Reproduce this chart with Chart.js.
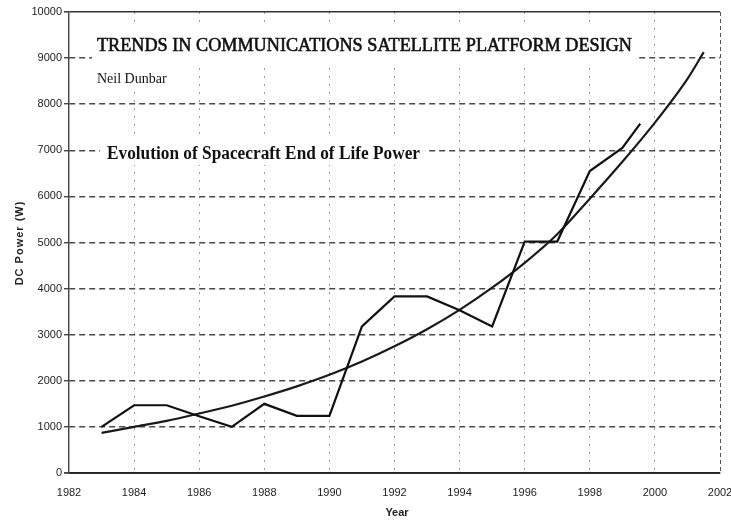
<!DOCTYPE html>
<html>
<head>
<meta charset="utf-8">
<title>Evolution of Spacecraft End of Life Power</title>
<script src="https://cdn.jsdelivr.net/npm/chart.js@4.4.0/dist/chart.umd.min.js"></script>
<style>
  html, body { margin: 0; padding: 0; background: #fff; }
  #wrap { width: 731px; height: 522px; }
</style>
</head>
<body>
<div id="wrap"><canvas id="powerChart" width="731" height="522"></canvas></div>
<script>
// ===============================
// DATA
// ===============================

// satellite EOL power by launch year (W)
const powerYears = [1983, 1984, 1985, 1986, 1987, 1988, 1989, 1990, 1991, 1992, 1993, 1994, 1995, 1996, 1997, 1998, 1999, 1999.55];
const powerValues = [1000, 1470, 1470, 1230, 1000, 1500, 1240, 1240, 3180, 3830, 3830, 3530, 3180, 5020, 5020, 6550, 7050, 7580];

// fitted trend curve
const trendYears = [1983, 1984, 1985, 1986, 1987, 1988, 1989, 1990, 1991, 1992, 1993, 1994, 1995, 1996, 1997, 1998, 1999, 2000, 2001, 2001.5];
const trendValues = [870, 1000, 1130, 1290, 1460, 1660, 1880, 2130, 2420, 2750, 3120, 3540, 4020, 4560, 5180, 5950, 6750, 7600, 8550, 9130];

const yearTicks = [1982, 1984, 1986, 1988, 1990, 1992, 1994, 1996, 1998, 2000, 2002];
const powerTicks = [0, 1000, 2000, 3000, 4000, 5000, 6000, 7000, 8000, 9000, 10000];

const mainTitle = "TRENDS IN COMMUNICATIONS SATELLITE PLATFORM DESIGN";
const authorText = "Neil Dunbar";
const subTitle = "Evolution of Spacecraft End of Life Power";

const toPoints = (xs, ys) => xs.map((x, i) => ({ x: x, y: ys[i] }));

// ===============================
// TEXT BOXES + AXIS TITLES
// ===============================

const textBoxes = {
  id: "textBoxes",
  beforeDatasetsDraw(chart) {
    const c = chart.ctx;
    c.save();
    // white text boxes sit over the grid
    c.fillStyle = "#fff";
    c.fillRect(92, 28, 546, 38);
    c.fillRect(92, 66, 84, 24);
    c.fillRect(100, 138, 325, 27);

    c.fillStyle = "#111";
    c.strokeStyle = "#111";
    c.textBaseline = "alphabetic";
    c.textAlign = "left";
    c.font = "19px 'Liberation Serif'";
    c.lineWidth = 0.6;
    c.fillText(mainTitle, 97, 51, 535);
    c.strokeText(mainTitle, 97, 51, 535);
    c.font = "14px 'Liberation Serif'";
    c.fillText(authorText, 97, 83, 72);
    c.font = "bold 18px 'Liberation Serif'";
    c.fillText(subTitle, 107, 159, 313);
    c.restore();
  },
  afterDraw(chart) {
    const c = chart.ctx;
    c.save();
    c.fillStyle = "#222";
    c.font = "bold 11px 'Liberation Sans'";
    c.textAlign = "center";
    c.textBaseline = "middle";
    c.fillText("Year", 397, 513);
    c.translate(20, 243);
    c.rotate(-Math.PI / 2);
    c.letterSpacing = "1px";
    c.fillText("DC Power (W)", 0, 0);
    c.restore();
  }
};

// ===============================
// CHART
// ===============================

const tickFont = { family: "'Liberation Sans', Arial, sans-serif", size: 11 };

new Chart(document.getElementById("powerChart"), {
  type: "line",
  data: {
    datasets: [
      {
        label: "EOL Power",
        data: toPoints(powerYears, powerValues),
        borderColor: "#111",
        borderWidth: 2.2,
        pointRadius: 0,
        tension: 0,
        fill: false
      },
      {
        label: "Trend",
        data: toPoints(trendYears, trendValues),
        borderColor: "#1a1a1a",
        borderWidth: 2.2,
        pointRadius: 0,
        cubicInterpolationMode: "monotone",
        fill: false
      }
    ]
  },
  options: {
    responsive: false,
    animation: false,
    layout: { padding: { top: 12, right: 11, left: 0, bottom: 0 } },
    plugins: {
      legend: { display: false },
      tooltip: { enabled: false }
    },
    scales: {
      x: {
        type: "linear",
        min: 1982,
        max: 2002,
        afterBuildTicks: s => { s.ticks = yearTicks.map(v => ({ value: v })); },
        afterFit: s => {
          s.height = 49;
          // let the last label run past the plot edge
          s.paddingLeft = 0;
          s.paddingRight = 0;
        },
        ticks: {
          color: "#222",
          font: tickFont,
          padding: 13,
          maxRotation: 0,
          autoSkip: false,
          callback: v => String(v)
        },
        grid: {
          drawTicks: false,
          color: ctx => {
            const v = ctx.tick && ctx.tick.value;
            if (v === 1982) return "#444";
            if (v === 2002) return "#555";
            return "#9a9a9a";
          },
          lineWidth: ctx => (ctx.tick && ctx.tick.value === 1982) ? 1.3 : 1
        },
        border: {
          color: "#222",
          width: 1.8,
          dash: ctx => {
            if (ctx.type === "scale") return [];
            const v = ctx.tick && ctx.tick.value;
            if (v === 1982) return [];
            if (v === 2002) return [4, 3];
            return [2, 6];
          }
        }
      },
      y: {
        min: 0,
        max: 10000,
        afterBuildTicks: s => { s.ticks = powerTicks.map(v => ({ value: v })); },
        afterFit: s => {
          s.width = 69;
          s.paddingTop = 0;
          s.paddingBottom = 0;
        },
        ticks: {
          color: "#222",
          font: tickFont,
          padding: 2,
          callback: v => String(v)
        },
        grid: {
          tickLength: 5,
          tickColor: "#444",
          color: ctx => {
            const v = ctx.tick && ctx.tick.value;
            if (v === 0) return "#222";
            if (v === 10000) return "#333";
            return "#4a4a4a";
          },
          lineWidth: ctx => {
            const v = ctx.tick && ctx.tick.value;
            if (v === 0) return 1.8;
            if (v === 10000) return 1.6;
            return 1.4;
          }
        },
        border: {
          color: "#444",
          width: 1.2,
          dash: ctx => {
            if (ctx.type === "scale") return [];
            const v = ctx.tick && ctx.tick.value;
            if (v === 0 || v === 10000) return [];
            return [6, 4];
          }
        }
      }
    }
  },
  plugins: [textBoxes]
});
</script>
</body>
</html>
